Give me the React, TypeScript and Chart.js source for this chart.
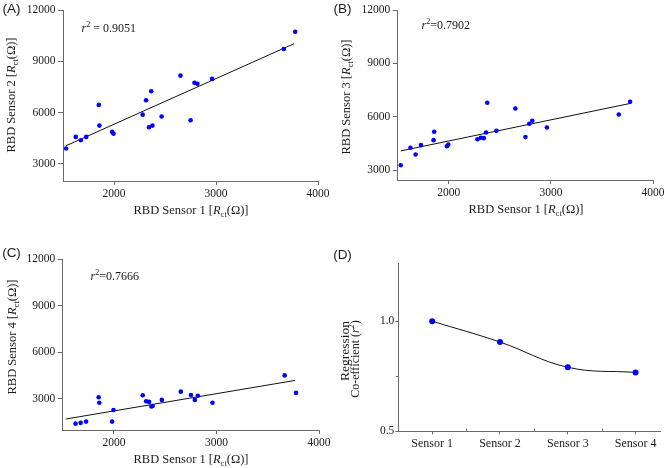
import React, { useEffect, useRef } from 'react';
import { Chart, registerables } from 'chart.js';
Chart.register(...registerables);

// ---------- data ----------
const SENSOR1 = [1530, 1625, 1675, 1728, 1851, 1857, 1982, 1995, 2281, 2314, 2343, 2365, 2377, 2467, 2652, 2751, 2789, 2818, 2961, 3665, 3776];
const SENSOR2 = [3900, 4580, 4380, 4580, 6450, 5240, 4870, 4770, 5880, 6720, 5140, 7250, 5240, 5770, 8160, 5550, 7750, 7680, 7970, 9720, 10730];
const SENSOR3 = [3280, 4260, 3880, 4410, 4690, 5160, 4350, 4440, 4740, 4820, 4800, 5120, 6790, 5210, 6470, 4860, 5610, 5780, 5400, 6130, 6840];
const SENSOR4 = [null, 1410, 1460, 1540, 3110, 2760, 1540, 2290, 3240, 2850, 2810, 2510, 2550, 2940, 3470, 3260, 2940, 3210, 2760, 4520, 3390];

const FIT_X = [1530, 3765];
const FIT_S2 = [4063, 10030];
const FIT_S3 = [4084, 6737];
const FIT_S4 = [1707, 4192];

const SENSOR_LABELS = ['Sensor 1', 'Sensor 2', 'Sensor 3', 'Sensor 4'];
const R2_VALUES = [1.0, 0.9051, 0.7902, 0.7666];

const X_TICKS = [2000, 3000, 4000];
const Y_TICKS = [3000, 6000, 9000, 12000];
const R2_TICKS = [0.5, 1.0];
const R2_MINOR = [0.75];
const CAT_TICKS = [1, 2, 3, 4];
const CAT_MINOR = [1.5, 2.5, 3.5];

// ---------- styling helpers ----------
const SERIF = "'Liberation Serif', 'Times New Roman', serif";
const SANS = "'Liberation Sans', Arial, sans-serif";
const AXIS = '#6a6a6a';
const TEXT = '#1a1a1a';
const BLUE = '#0000ff';

type Seg = { t: string; it?: boolean; sub?: boolean; sup?: boolean };
type Item = { x: number; y: number; segs: Seg[]; size: number; family?: string; rot?: boolean; align?: 'left' | 'center' };

function drawItems(ctx: CanvasRenderingContext2D, items: Item[]) {
  for (const it of items) {
    ctx.save();
    ctx.fillStyle = TEXT;
    ctx.textBaseline = 'middle';
    ctx.textAlign = 'left';
    const fam = it.family || SERIF;
    const fontFor = (s: Seg) => `${s.it ? 'italic ' : ''}${s.sub || s.sup ? it.size * 0.68 : it.size}px ${fam}`;
    let total = 0;
    const widths = it.segs.map((s) => {
      ctx.font = fontFor(s);
      const w = ctx.measureText(s.t).width;
      total += w;
      return w;
    });
    ctx.translate(it.x, it.y);
    if (it.rot) ctx.rotate(-Math.PI / 2);
    let cx = it.align === 'left' ? 0 : -total / 2;
    it.segs.forEach((s, i) => {
      ctx.font = fontFor(s);
      const dy = s.sub ? it.size * 0.3 : s.sup ? -it.size * 0.32 : 0;
      ctx.fillText(s.t, cx, dy);
      cx += widths[i];
    });
    ctx.restore();
  }
}

function textPlugin(items: Item[], minor?: { x?: number[]; y?: number[] }) {
  return {
    id: 'richText',
    afterDraw(chart: any) {
      const ctx = chart.ctx as CanvasRenderingContext2D;
      if (minor) {
        ctx.save();
        ctx.strokeStyle = AXIS;
        ctx.lineWidth = 1;
        const xs = chart.scales.x;
        const ys = chart.scales.y;
        (minor.x || []).forEach((v) => {
          const px = Math.round(xs.getPixelForValue(v)) + 0.5;
          ctx.beginPath();
          ctx.moveTo(px, chart.chartArea.bottom);
          ctx.lineTo(px, chart.chartArea.bottom - 2.5);
          ctx.stroke();
        });
        (minor.y || []).forEach((v) => {
          const py = Math.round(ys.getPixelForValue(v)) + 0.5;
          ctx.beginPath();
          ctx.moveTo(chart.chartArea.left, py);
          ctx.lineTo(chart.chartArea.left - 2.5, py);
          ctx.stroke();
        });
        ctx.restore();
      }
      drawItems(ctx, items);
    },
  };
}

function axis(min: number, max: number, ticks: number[], isX: boolean, size: number, tickLen: number, pad: number, fmt: (v: number) => string, fontSize = 11.5) {
  return {
    type: 'linear',
    min,
    max,
    afterBuildTicks: (s: any) => {
      s.ticks = ticks.map((v) => ({ value: v }));
    },
    afterFit: (s: any) => {
      if (isX) s.height = size;
      else s.width = size;
      s.paddingLeft = 0;
      s.paddingRight = 0;
      s.paddingTop = 0;
      s.paddingBottom = 0;
    },
    grid: { display: true, drawOnChartArea: false, drawTicks: true, tickLength: tickLen, color: AXIS, tickColor: AXIS, lineWidth: 1 },
    border: { display: true, color: AXIS, width: 1 },
    ticks: {
      padding: pad,
      color: TEXT,
      maxRotation: 0,
      autoSkip: false,
      font: { family: SERIF, size: fontSize },
      callback: (v: any) => fmt(Number(v)),
    },
  };
}

function scatterConfig(ys: (number | null)[], fit: number[], yMin: number, padding: any, items: Item[]) {
  const pts = SENSOR1.map((x, i) => ({ x, y: ys[i] })).filter((p) => p.y !== null);
  return {
    type: 'scatter',
    data: {
      datasets: [
        { data: pts, backgroundColor: BLUE, borderColor: BLUE, pointRadius: 2.3, pointBorderWidth: 0 },
        {
          type: 'line',
          data: FIT_X.map((x, i) => ({ x, y: fit[i] })),
          borderColor: '#111',
          borderWidth: 1,
          pointRadius: 0,
          showLine: true,
          fill: false,
        },
      ],
    },
    options: {
      responsive: false,
      animation: false,
      layout: { padding },
      plugins: { legend: { display: false }, tooltip: { enabled: false } },
      scales: {
        x: axis(1500, 4000, X_TICKS, true, 30, 4, 2, (v) => String(v)),
        y: axis(yMin, 12000, Y_TICKS, false, 40, 5, 2.5, (v) => String(v)),
      },
    },
    plugins: [textPlugin(items)],
  };
}

const rct = (prefix: string): Seg[] => [{ t: prefix + ' [' }, { t: 'R', it: true }, { t: 'ct', sub: true }, { t: '(Ω)]' }];

function buildConfigs() {
  const A = scatterConfig(SENSOR2, FIT_S2, 2000, { left: 23, top: 10, right: 349, bottom: 257 }, [
    { x: 11.5, y: 9.5, segs: [{ t: '(A)' }], size: 13.5, family: SANS },
    { x: 81.5, y: 28.5, segs: [{ t: 'r', it: true }, { t: '2', sup: true }, { t: ' = 0.9051' }], size: 12, align: 'left' },
    { x: 191, y: 211, segs: rct('RBD Sensor 1'), size: 12.5 },
    { x: 12, y: 95, segs: rct('RBD Sensor 2'), size: 12.5, rot: true },
  ]);
  const B = scatterConfig(SENSOR3, FIT_S3, 2450, { left: 357.7, top: 10, right: 14, bottom: 258 }, [
    { x: 342.5, y: 9.5, segs: [{ t: '(B)' }], size: 13.5, family: SANS },
    { x: 421.5, y: 25.5, segs: [{ t: 'r', it: true }, { t: '2', sup: true }, { t: '=0.7902' }], size: 12, align: 'left' },
    { x: 526, y: 210, segs: rct('RBD Sensor 1'), size: 12.5 },
    { x: 347, y: 97, segs: rct('RBD Sensor 3'), size: 12.5, rot: true },
  ]);
  const C = scatterConfig(SENSOR4, FIT_S4, 1000, { left: 22.7, top: 259.3, right: 348, bottom: 8 }, [
    { x: 11.5, y: 253, segs: [{ t: '(C)' }], size: 13.5, family: SANS },
    { x: 90.5, y: 277, segs: [{ t: 'r', it: true }, { t: '2', sup: true }, { t: '=0.7666' }], size: 12, align: 'left' },
    { x: 191, y: 460, segs: rct('RBD Sensor 1'), size: 12.5 },
    { x: 13, y: 337, segs: rct('RBD Sensor 4'), size: 12.5, rot: true },
  ]);
  const D = {
    type: 'line',
    data: {
      datasets: [
        {
          data: R2_VALUES.map((y, i) => ({ x: i + 1, y })),
          borderColor: '#111',
          borderWidth: 1,
          tension: 0.4,
          pointRadius: 3,
          pointBorderWidth: 0,
          pointBackgroundColor: BLUE,
          fill: false,
        },
      ],
    },
    options: {
      responsive: false,
      animation: false,
      layout: { padding: { left: 358.3, top: 263, right: 7, bottom: 7 } },
      plugins: { legend: { display: false }, tooltip: { enabled: false } },
      scales: {
        x: axis(0.5, 4.36, CAT_TICKS, true, 30, 3.5, 2, (v) => SENSOR_LABELS[Math.round(v) - 1] || '', 12),
        y: axis(0.5, 1.265, R2_TICKS, false, 40, 3, 1, (v) => v.toFixed(1)),
      },
    },
    plugins: [
      textPlugin(
        [
          { x: 342.5, y: 255, segs: [{ t: '(D)' }], size: 13.5, family: SANS },
          { x: 345, y: 351, segs: [{ t: 'Regression' }], size: 13.5, rot: true },
          { x: 356, y: 359, segs: [{ t: 'Co-efficient (' }, { t: 'r', it: true }, { t: '2', sup: true }, { t: ')' }], size: 12, rot: true },
        ],
        { x: CAT_MINOR, y: R2_MINOR }
      ),
    ],
  };
  return [A, B, C, D];
}

export default function App() {
  const refs = [useRef<HTMLCanvasElement>(null), useRef<HTMLCanvasElement>(null), useRef<HTMLCanvasElement>(null), useRef<HTMLCanvasElement>(null)];
  useEffect(() => {
    const cfgs = buildConfigs();
    const charts = cfgs.map((cfg, i) => new Chart(refs[i].current as HTMLCanvasElement, cfg as any));
    return () => charts.forEach((c) => c.destroy());
  }, []);
  return (
    <div style={{ position: 'fixed', left: 0, top: 0, width: 667, height: 468, background: '#fff', overflow: 'hidden' }}>
      {refs.map((r, i) => (
        <canvas key={i} ref={r} width={667} height={468} style={{ position: 'absolute', left: 0, top: 0, width: 667, height: 468, display: 'block' }} />
      ))}
    </div>
  );
}
